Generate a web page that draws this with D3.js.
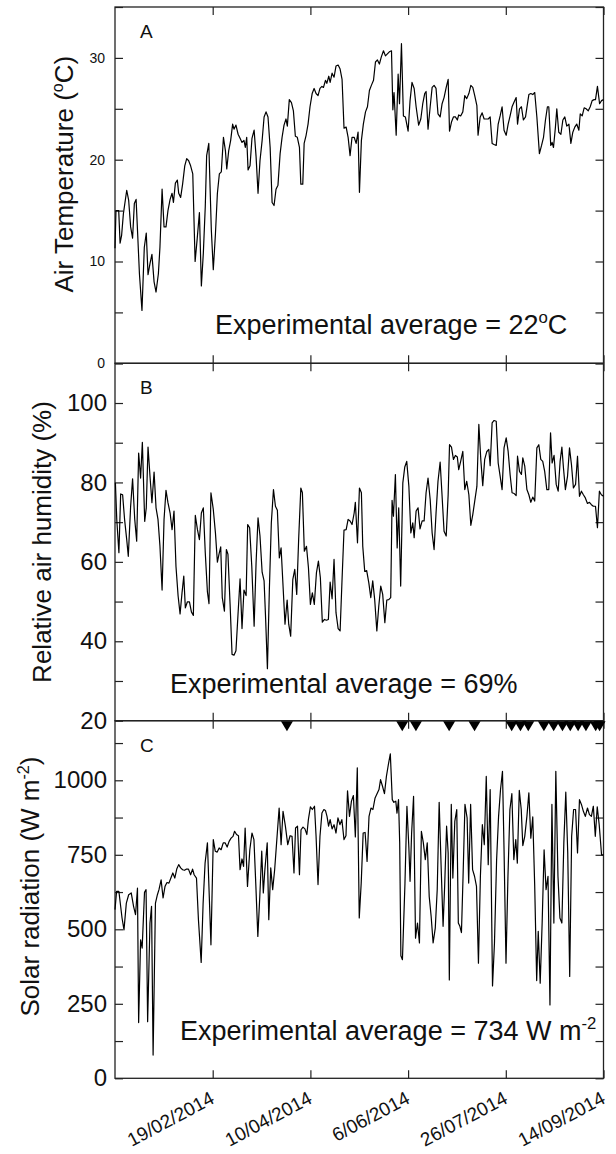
<!DOCTYPE html>
<html>
<head>
<meta charset="utf-8">
<script src="https://cdn.jsdelivr.net/npm/d3@7"></script>
<style>
  body { margin: 0; background: #fff; }
  text { font-family: "Liberation Sans", Arial, Helvetica, sans-serif; fill: #111; }
</style>
</head>
<body>
<svg id="chart" width="616" height="1154"></svg>
<script>
// x axis: day of the experiment, labelled with calendar dates
const dayTicks = [50, 100, 150, 200, 250];
const dayLabels = ["19/02/2014", "10/04/2014", "6/06/2014", "26/07/2014", "14/09/2014"];

// [day, value]
const airTemp = [[0,11.3],[0.5,15],[1.9,15],[2.6,11.8],[3.4,12.6],[4.3,14.7],[6.0,17.0],[7.0,16],[8.0,13.4],[9.0,12.3],[9.9,15.7],[10.8,16.1],[11.6,12.7],[12.5,8.8],[13.8,5.2],[15.0,11.4],[16.0,12.8],[16.9,8.7],[17.9,9.8],[18.9,10.7],[20.0,8.0],[21.0,7.0],[22.2,8.8],[23.0,11.4],[24.1,17.1],[25.1,13.4],[26.1,13.4],[27.1,15],[28.2,16.1],[29.2,16.7],[29.9,15.8],[30.9,17.7],[31.9,18],[32.6,16.7],[33.6,16.3],[34.6,17.6],[35.7,19.4],[36.7,20.1],[37.7,19.9],[38.7,19.4],[39.8,18.6],[41.0,10],[42.0,12.1],[43.2,14.8],[44.2,7.6],[45.2,10.8],[46.2,15.4],[46.9,20.4],[48.0,21.6],[49.3,13.1],[50.3,9.2],[51.4,12.7],[52.4,16.7],[53.4,18.6],[54.4,18.8],[55.5,22.2],[56.5,20.9],[57.2,19.1],[58.2,20.9],[59.2,21.9],[60.2,23.5],[60.9,23],[61.9,23.4],[63.0,22.5],[64.0,22.1],[65.0,21.7],[66.0,21.9],[66.7,21.2],[67.4,22.2],[68.1,19],[69.1,19.4],[70.1,22.1],[71.2,22.9],[72.2,20.3],[73.2,16.7],[74.2,19.9],[75.3,21.9],[76.3,24.2],[77.3,24.7],[78.3,24.2],[79.4,21.2],[80.4,15.8],[81.4,15.5],[82.4,17.1],[83.4,17.5],[84.5,20.6],[85.5,22.2],[86.5,23.4],[87.5,24.0],[88.2,23.3],[89.2,25.9],[90.3,25.6],[91.3,24.8],[92.3,22.3],[93.3,22.2],[94.4,21.2],[95.1,17.6],[96.1,17.6],[96.8,21.6],[97.8,22.4],[98.8,23.5],[99.8,25.2],[100.9,26.5],[101.9,27],[102.9,26.5],[103.9,26.3],[104.9,27],[105.9,27.2],[106.7,27.1],[107.7,27.8],[108.4,27.5],[109.4,28.2],[110.1,27.6],[111.1,28.5],[112.1,28.1],[113.1,29.2],[114.2,29.3],[115.2,28.9],[116.2,27.9],[117.2,23.1],[118.3,23.2],[119.3,22.2],[120.3,20.4],[121.3,22.2],[122.4,22.2],[123.4,21.6],[124.4,22.7],[125.1,16.8],[126.1,21.9],[127.1,23.5],[128.2,24.7],[129.2,25.2],[130.2,26.8],[131.2,27.3],[132.3,27.8],[133.3,29.6],[134.3,29.8],[135.3,29.4],[136.3,30.1],[137.4,30.7],[138.4,30.2],[139.4,30.4],[140.4,30.6],[141.5,30.7],[142.2,24.9],[142.8,26.6],[143.9,22.4],[144.9,28.4],[145.6,25.5],[146.6,31.4],[147.6,24.3],[148.6,24.2],[150.0,22.8],[151.0,25.8],[152.0,27.6],[153.1,27.0],[154.1,25.2],[155.4,23.4],[156.5,24],[157.5,25.5],[158.5,26.5],[159.2,26.7],[160.2,23.0],[161.3,25.2],[162.3,27.1],[163.3,27.3],[164.3,27],[165.3,24.5],[166.4,24.2],[167.4,25.5],[168.4,26.1],[169.5,27.1],[170.5,27.9],[171.2,22.8],[172.2,23.7],[173.2,24.2],[174.2,24.2],[175.2,23.9],[175.9,24.4],[176.9,24.3],[178.0,24.7],[179.0,26.3],[180.0,26],[181.1,26.5],[182.1,27.3],[183.1,27.1],[184.1,26.3],[185.2,25.3],[185.8,22.4],[186.9,24.2],[187.9,24.6],[188.9,24],[189.9,24],[191.0,24],[192.0,24.2],[193.0,21.6],[194.0,21.5],[195.1,21.4],[196.1,23.5],[197.1,24.3],[198.1,25.2],[199.1,22.9],[200.2,22.4],[201.2,23.5],[202.2,24.3],[203.2,25.2],[204.3,25.7],[205.3,26.1],[206.0,23.5],[207.0,25.0],[208.0,25.2],[209.0,23.9],[210.1,24.2],[211.1,25.5],[211.8,26.4],[212.8,26.5],[213.8,26.4],[214.8,26.6],[215.9,24.2],[217.2,20.6],[218.3,21.4],[219.3,22.2],[220.3,23.9],[221.3,25.2],[222.0,25.2],[223.0,21.4],[223.7,21.7],[224.4,21.2],[225.4,23.2],[226.1,25.0],[227.1,22.7],[228.2,22.5],[229.2,23.9],[230.2,24.2],[231.2,23.3],[232.3,23.5],[233.3,21.6],[234.3,22.7],[235.3,23.2],[236.3,23.5],[237.4,22.9],[238.1,24.5],[239.1,24.3],[240.1,25.1],[241.1,25.0],[242.2,24.8],[243.2,25.2],[244.2,25.8],[245.2,25.9],[245.9,25.9],[246.9,27.2],[248.0,25.5],[249.0,25.8],[250.0,25.9]];

const humidity = [[0.2,79.9],[0.9,70.7],[2.0,62.3],[2.9,77.1],[3.9,76.9],[4.9,70.7],[6.0,65.6],[6.8,61.4],[8.0,74.0],[9.0,80.9],[10.1,70.7],[11.1,65.2],[12.1,87.4],[13.1,81.1],[14.0,90.1],[15.2,70.2],[16.0,73.6],[16.9,88.9],[17.9,81.6],[18.9,74.9],[20.0,82.6],[21.0,73.6],[22.0,70.7],[23.0,64.0],[24.1,52.9],[25.1,70.7],[26.1,78.0],[27.1,74.9],[28.2,72.3],[29.2,68.1],[30.2,72.8],[31.2,58.9],[32.3,51.4],[33.3,46.9],[34.3,52.2],[35.2,56.4],[36.0,48.4],[37.0,49.9],[38.1,49.9],[39.1,47.4],[40.1,46.5],[41.1,71.7],[42.2,68.1],[43.2,65.6],[44.2,72.3],[45.2,73.6],[46.2,62.3],[47.3,52.4],[48.1,49.5],[49.1,77.4],[50.3,73.2],[51.4,67.3],[52.4,59.9],[53.2,61.9],[54.1,63.8],[54.9,51.0],[56.0,47.6],[57.0,63.1],[57.8,61.9],[58.9,49.3],[59.9,36.7],[60.9,36.5],[61.9,37.6],[63.0,47.2],[64.0,55.7],[65.0,43.2],[66.0,52.9],[67.1,51.5],[67.9,69.4],[68.9,68.6],[70.0,58.9],[71.2,43.8],[72.2,59.8],[73.2,71.1],[74.2,66.5],[75.3,57.4],[76.3,55.2],[77.1,45.5],[78.0,33.1],[79.0,53.1],[80.0,69.8],[81.1,78.2],[82.1,74.0],[83.1,73.0],[84.1,61.0],[85.0,63.5],[86.0,53.9],[87.0,44.3],[88.1,50.4],[88.9,44.3],[89.9,41.3],[91.0,55.6],[92.0,58.1],[93.0,51.8],[94.0,65.8],[95.1,78.6],[95.9,77.4],[96.9,62.7],[98.0,63.9],[99.0,58.5],[100.0,49.3],[101.0,52.2],[102.0,49.3],[103.1,57.3],[104.1,60.2],[105.1,56.0],[106.1,44.8],[107.2,45.5],[108.2,45.3],[109.2,45.5],[110.1,54.9],[111.1,50.7],[112.1,60.6],[113.1,47.2],[114.2,43.2],[115.2,42.6],[116.2,55.6],[117.2,68.0],[118.3,68.1],[119.3,70.7],[120.3,70.3],[121.3,69.4],[122.4,72.3],[123.0,75.0],[124.1,64.8],[125.1,78.6],[126.1,77.4],[126.8,63.9],[127.8,57.6],[128.8,57.8],[129.9,54.7],[130.9,51.0],[131.9,55.2],[132.9,50.5],[134.0,42.6],[135.0,48.9],[136.0,53.9],[137.0,51.8],[138.1,44.7],[139.1,50.4],[140.1,50.5],[141.1,51.0],[141.8,75.5],[142.5,71.5],[143.5,82.0],[144.4,63.5],[145.2,73.6],[146.2,53.9],[147.3,79.9],[148.3,83.9],[149.3,85.3],[150.4,79.0],[151.4,67.3],[152.4,69.8],[153.1,66.1],[154.1,72.8],[155.1,73.6],[156.1,68.3],[157.2,70.3],[158.2,70.3],[159.2,77.4],[160.2,81.1],[161.3,75.7],[162.3,67.3],[163.3,63.1],[164.3,72.3],[165.3,80.3],[166.4,85.1],[167.4,76.5],[168.4,67.7],[169.5,66.5],[170.5,76.9],[171.2,89.5],[172.2,88.9],[173.2,85.8],[174.2,86.8],[175.2,86.4],[175.9,83.2],[176.9,85.3],[178.0,87.8],[179.0,78.2],[180.0,80.3],[181.1,76.9],[182.1,69.2],[183.1,71.9],[184.1,75.3],[185.2,79.0],[186.2,94.6],[187.2,85.8],[188.2,79.2],[189.2,85.8],[190.3,87.8],[191.3,88.3],[192.0,84.2],[193.0,95.0],[194.0,95.6],[195.1,95.4],[196.1,84.9],[197.1,81.6],[198.1,78.2],[199.1,88.7],[200.2,91.2],[201.2,87.8],[202.2,82.0],[203.2,77.4],[204.3,77.2],[205.3,76.7],[206.0,86.6],[207.0,82.8],[208.0,82.0],[208.7,86.2],[209.7,84.1],[210.8,78.2],[211.8,76.9],[212.8,75.0],[213.8,76.3],[214.8,75.3],[215.9,88.7],[216.9,89.5],[217.9,85.8],[218.9,85.3],[219.9,82.8],[221.0,78.2],[222.0,78.2],[222.9,92.5],[223.7,84.9],[224.7,86.8],[225.8,79.5],[226.8,77.8],[227.8,85.3],[228.7,88.9],[229.5,83.7],[230.5,78.2],[231.6,81.6],[232.6,88.7],[233.6,84.5],[234.6,78.6],[235.7,79.5],[236.7,86.6],[237.7,76.5],[238.7,77.8],[239.7,76.9],[240.7,76.1],[241.8,74.7],[242.8,75.0],[243.8,74.4],[244.8,74.0],[245.9,74.0],[246.9,68.6],[247.9,77.8],[248.9,76.9],[250,76.5]];

const radiation = [[0,566],[0.8,627],[2.0,627],[3.6,538],[4.6,498],[5.8,588],[7.0,616],[8.3,622],[9.5,577],[10.5,549],[11.5,638],[12.1,187],[13.1,465],[13.9,437],[15.1,624],[15.9,633],[16.7,190],[17.9,521],[18.7,577],[19.5,78],[20.7,588],[21.7,616],[22.5,633],[23.6,666],[24.6,605],[25.6,644],[26.6,657],[27.6,655],[28.6,672],[29.6,689],[30.6,672],[31.6,702],[32.6,717],[33.6,706],[34.6,700],[35.6,698],[36.6,702],[37.6,702],[38.7,683],[39.7,702],[40.5,683],[41.7,672],[42.7,532],[44.1,389],[45.1,588],[46.1,722],[47.3,790],[49.1,448],[50.3,801],[51.3,762],[52.3,759],[53.3,773],[54.3,767],[55.4,790],[56.4,790],[57.4,776],[58.4,795],[59.4,806],[60.4,812],[61.2,829],[62.2,818],[63.2,814],[64.0,700],[65.0,736],[65.8,711],[66.6,840],[67.8,644],[69.0,767],[70.1,823],[71.1,801],[72.1,644],[73.1,476],[74.1,610],[75.1,762],[75.9,622],[76.7,700],[77.9,790],[78.7,532],[79.7,706],[80.7,633],[81.7,700],[82.7,790],[84.0,907],[85.0,784],[86.0,896],[87.2,846],[88.4,784],[89.6,814],[90.6,812],[91.6,689],[92.4,840],[93.4,846],[94.4,683],[95.2,834],[96.2,843],[97.2,837],[98.2,818],[99.0,870],[100.0,911],[101.0,902],[102.1,913],[102.9,812],[103.9,650],[104.9,812],[105.9,890],[106.9,902],[107.7,899],[108.5,879],[109.3,846],[110.1,868],[111.1,837],[112.1,851],[113.1,823],[114.1,874],[115.1,851],[116.1,868],[117.2,801],[118.2,814],[119.0,965],[120.0,879],[121.0,930],[122.0,949],[123.0,810],[124.0,1042],[125.0,538],[126.0,655],[127.0,823],[128.0,825],[129.0,728],[130.0,879],[131.0,907],[132.0,902],[133.1,941],[134.1,955],[135.1,969],[135.9,1002],[136.9,980],[137.9,955],[138.9,1013],[139.9,1053],[140.9,1089],[141.9,935],[142.7,926],[143.7,930],[144.3,890],[145.1,935],[145.7,790],[146.3,411],[147.1,398],[148.4,655],[149.4,913],[150.4,773],[151.0,661],[151.8,823],[152.8,946],[153.8,470],[154.8,521],[155.8,454],[156.8,829],[157.8,790],[158.8,734],[159.8,790],[160.8,610],[161.8,543],[162.8,454],[163.9,504],[164.9,633],[165.9,926],[166.9,711],[167.9,510],[168.7,644],[169.7,846],[170.5,756],[171.1,330],[172.1,919],[172.9,672],[173.9,862],[174.9,902],[175.7,521],[176.5,510],[177.3,489],[178.1,672],[179.1,919],[180.2,874],[181.0,655],[182.0,919],[183.0,700],[184.0,678],[185.0,644],[186.0,386],[187.0,678],[188.0,851],[189.0,784],[190.0,1013],[191.0,717],[192.0,969],[193.2,310],[194.2,454],[195.3,734],[196.3,879],[197.3,969],[198.3,1030],[199.1,767],[200.1,386],[201.1,678],[202.1,902],[203.1,955],[204.1,734],[205.1,801],[205.9,722],[206.9,966],[207.9,902],[208.7,781],[209.7,812],[210.8,879],[211.8,958],[212.8,806],[213.8,877],[214.8,644],[215.8,328],[216.6,493],[217.6,319],[218.6,521],[219.6,767],[220.6,633],[221.6,678],[222.6,246],[223.6,919],[224.6,521],[225.6,1030],[226.7,678],[227.7,538],[228.7,521],[229.7,790],[230.7,960],[231.7,756],[232.7,342],[233.7,812],[234.7,902],[235.7,902],[236.7,756],[237.7,935],[238.7,919],[239.7,896],[240.7,879],[241.8,907],[242.8,885],[243.8,879],[244.8,913],[245.8,812],[246.8,911],[247.8,851],[249.0,750],[250,750]];

// days marked with a triangle under panel B
const markerDays = [88, 147, 154, 171, 184, 203, 207.5, 211.5, 219.5, 224.5, 229, 233, 237, 241, 246, 248];

const svg = d3.select("#chart");
const left = 115, right = 603.5;
const x = d3.scaleLinear().domain([0, 250]).range([left, right]);

const panels = [
  { key: "A", data: airTemp, top: 7, bottom: 363.3, domain: [0, 35],
    major: [0, 10, 20, 30], minor: [5, 15, 25, 35], tickFont: 14, tickPad: 10,
    title: ["Air Temperature (", "o", "C)"], titleX: 73, titleShift: -11, titleFont: 26,
    note: ["Experimental average = 22", "o", "C"], noteX: 215, noteY: 334 },
  { key: "B", data: humidity, top: 363.3, bottom: 720.7, domain: [20, 110],
    major: [20, 40, 60, 80, 100], minor: [30, 50, 70, 90, 110], tickFont: 24, tickPad: 8,
    title: ["Relative air humidity (%)"], titleX: 51, titleShift: 0, titleFont: 26,
    note: ["Experimental average = 69%"], noteX: 170, noteY: 693 },
  { key: "C", data: radiation, top: 720.7, bottom: 1078.3, domain: [0, 1200],
    major: [0, 250, 500, 750, 1000], minor: [125, 375, 625, 875, 1125], tickFont: 24, tickPad: 8,
    title: ["Solar radiation (W m", "-2", ")"], titleX: 39, titleShift: -13, titleFont: 26,
    note: ["Experimental average = 734 W m", "-2"], noteX: 180, noteY: 1040 }
];

// write text pieces, middle piece raised as superscript
function richText(sel, parts, size) {
  sel.append("tspan").text(parts[0]);
  if (parts.length > 1) {
    sel.append("tspan").attr("dy", -size * 0.4).attr("font-size", size * 0.62).text(parts[1]);
    if (parts[2]) sel.append("tspan").attr("dy", size * 0.4).text(parts[2]);
  }
}

panels.forEach(p => {
  const y = d3.scaleLinear().domain(p.domain).range([p.bottom, p.top]);
  const g = svg.append("g");

  // inward ticks on all four sides
  const yLeft = g.append("g").attr("transform", `translate(${left},0)`)
    .call(d3.axisLeft(y).tickValues(p.major).tickFormat(d3.format("d"))
      .tickSizeInner(-8).tickSizeOuter(0).tickPadding(p.tickPad));
  g.append("g").attr("transform", `translate(${left},0)`)
    .call(d3.axisLeft(y).tickValues(p.minor).tickSizeInner(-8).tickSizeOuter(0).tickFormat(""));
  g.append("g").attr("transform", `translate(${right},0)`)
    .call(d3.axisRight(y).tickValues(p.major.concat(p.minor)).tickSizeInner(-8).tickSizeOuter(0).tickFormat(""));
  g.append("g").attr("transform", `translate(0,${p.top})`)
    .call(d3.axisTop(x).tickValues(dayTicks).tickSizeInner(-8).tickSizeOuter(0).tickFormat(""));
  const xb = g.append("g").attr("transform", `translate(0,${p.bottom})`)
    .call(d3.axisBottom(x).tickValues(dayTicks).tickSizeInner(-8).tickSizeOuter(0)
      .tickFormat((d, i) => p.key === "C" ? dayLabels[i] : ""));

  g.selectAll(".domain").remove();
  g.selectAll(".tick line").attr("stroke", "#222").attr("stroke-width", 1.2);
  yLeft.selectAll("text").attr("font-size", p.tickFont).attr("fill", "#111");

  if (p.key === "C") {
    xb.selectAll("text")
      .attr("font-size", 19)
      .attr("fill", "#111")
      .attr("text-anchor", "end")
      .attr("y", 0).attr("dy", 0)
      .attr("transform", "translate(2.5,24) rotate(-28)");
  }

  g.append("rect")
    .attr("x", left).attr("y", p.top)
    .attr("width", right - left).attr("height", p.bottom - p.top)
    .attr("fill", "none").attr("stroke", "#222").attr("stroke-width", 1.3);

  const line = d3.line().x(d => x(d[0])).y(d => y(d[1]));
  g.append("path").datum(p.data)
    .attr("fill", "none").attr("stroke", "#000").attr("stroke-width", 1.2)
    .attr("stroke-linejoin", "round").attr("d", line);

  g.append("text").attr("x", left + 25).attr("y", p.top + 31)
    .attr("font-size", 19).text(p.key);

  const t = g.append("text")
    .attr("transform", `translate(${p.titleX},${(p.top + p.bottom) / 2 + p.titleShift}) rotate(-90)`)
    .attr("text-anchor", "middle").attr("font-size", p.titleFont);
  richText(t, p.title, p.titleFont);

  const n = g.append("text").attr("x", p.noteX).attr("y", p.noteY).attr("font-size", 27);
  richText(n, p.note, 27);
});

// event markers hanging from the B/C boundary
const markerY = panels[2].top;
svg.append("g").selectAll("path").data(markerDays).join("path")
  .attr("transform", d => `translate(${x(d)},${markerY})`)
  .attr("d", "M-6,0.5 L6,0.5 L0,10.5 Z")
  .attr("fill", "#000");
</script>
</body>
</html>
